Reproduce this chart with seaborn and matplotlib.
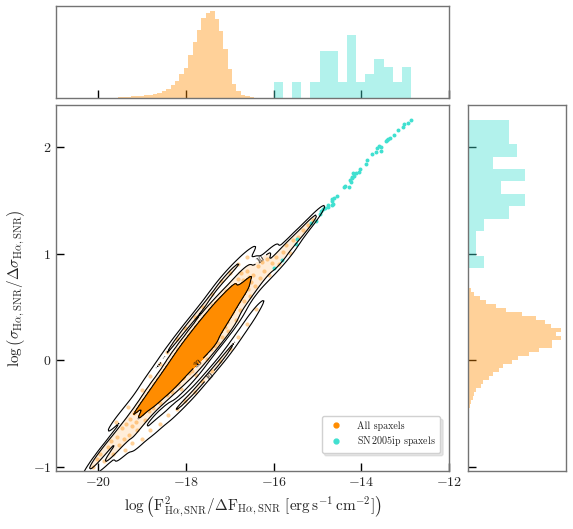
import numpy as np
import pandas as pd
import matplotlib
matplotlib.use('Agg')
import matplotlib.pyplot as plt
from matplotlib.lines import Line2D
from matplotlib.colors import ListedColormap
import seaborn as sns

# ---------- данные ----------
# все спакселы (выборка точек облака)
orange_pts = [
    (-20.12, -1.00), (-20.03, -0.93),
    (-19.95, -0.88), (-19.86, -0.95), (-19.78, -0.82),
    (-19.72, -0.76), (-19.66, -0.88), (-19.58, -0.72), (-19.52, -0.80),
    (-19.47, -0.64), (-19.42, -0.74), (-19.36, -0.60), (-19.31, -0.70), (-19.27, -0.55),
    (-19.23, -0.62), (-19.19, -0.50), (-19.15, -0.58), (-19.11, -0.66), (-19.07, -0.45),
    (-19.04, -0.52), (-19.01, -0.40),
    (-18.98, -0.49), (-18.95, -0.38), (-18.93, -0.56), (-18.90, -0.43), (-18.87, -0.33),
    (-18.85, -0.48), (-18.82, -0.40), (-18.80, -0.28), (-18.78, -0.36), (-18.76, -0.45),
    (-18.74, -0.30), (-18.72, -0.22), (-18.70, -0.38), (-18.68, -0.27), (-18.66, -0.33),
    (-18.64, -0.18), (-18.62, -0.25), (-18.60, -0.40), (-18.58, -0.29), (-18.57, -0.20),
    (-18.55, -0.34), (-18.53, -0.14), (-18.52, -0.24), (-18.51, -0.30),
    (-18.49, -0.19), (-18.48, -0.27), (-18.46, -0.10), (-18.45, -0.22), (-18.43, -0.33),
    (-18.42, -0.15), (-18.40, -0.06), (-18.39, -0.20), (-18.37, -0.26), (-18.36, -0.12),
    (-18.34, -0.02), (-18.33, -0.17), (-18.31, -0.30), (-18.30, -0.09), (-18.29, -0.21),
    (-18.28, -0.13), (-18.27, 0.02), (-18.26, -0.24),
    (-18.24, -0.08), (-18.23, -0.18), (-18.22, 0.04), (-18.21, -0.12), (-18.20, -0.02),
    (-18.19, 0.10), (-18.18, -0.22), (-18.17, -0.06), (-18.16, 0.01), (-18.15, -0.15),
    (-18.14, 0.07), (-18.12, -0.04), (-18.11, -0.27), (-18.10, 0.13), (-18.09, -0.10),
    (-18.08, 0.02), (-18.07, -0.17), (-18.06, 0.08), (-18.05, -0.03), (-18.04, 0.16),
    (-18.02, -0.08), (-18.01, 0.04),
    (-17.99, 0.05), (-17.98, -0.08), (-17.97, 0.14), (-17.96, 0.00), (-17.95, 0.21),
    (-17.94, -0.12), (-17.93, 0.08), (-17.92, 0.03), (-17.91, 0.17), (-17.90, -0.04),
    (-17.89, 0.11), (-17.88, 0.26), (-17.87, 0.06), (-17.86, -0.10), (-17.85, 0.15),
    (-17.84, 0.02), (-17.83, 0.20), (-17.82, 0.09), (-17.81, -0.02), (-17.80, 0.13),
    (-17.79, 0.30), (-17.78, 0.07), (-17.78, -0.14), (-17.77, 0.18), (-17.76, 0.04),
    (-17.76, 0.24), (-17.75, 0.11),
    (-17.74, 0.19), (-17.73, 0.06), (-17.73, 0.30), (-17.72, 0.13), (-17.71, 0.24),
    (-17.70, -0.02), (-17.69, 0.17), (-17.68, 0.36), (-17.67, 0.09), (-17.66, 0.22),
    (-17.65, 0.14), (-17.64, 0.29), (-17.63, 0.03), (-17.62, 0.19), (-17.61, 0.40),
    (-17.60, 0.11), (-17.60, 0.26), (-17.59, 0.18), (-17.58, 0.33), (-17.57, 0.07),
    (-17.56, 0.23), (-17.56, 0.15), (-17.55, 0.38), (-17.54, 0.20), (-17.53, 0.28),
    (-17.53, 0.01), (-17.52, 0.12), (-17.51, 0.25), (-17.51, 0.34), (-17.50, 0.17),
    (-17.49, 0.30), (-17.48, 0.42), (-17.48, 0.16), (-17.47, 0.27), (-17.46, 0.36),
    (-17.45, 0.22), (-17.45, 0.48), (-17.44, 0.31), (-17.43, 0.10), (-17.42, 0.39),
    (-17.41, 0.25), (-17.40, 0.33), (-17.40, 0.52), (-17.39, 0.19), (-17.38, 0.29),
    (-17.37, 0.44), (-17.36, 0.36), (-17.35, 0.13), (-17.34, 0.31), (-17.33, 0.24),
    (-17.32, 0.47), (-17.31, 0.38), (-17.31, 0.28), (-17.30, 0.55), (-17.29, 0.21),
    (-17.28, 0.35), (-17.27, 0.42), (-17.27, 0.16), (-17.26, 0.33), (-17.25, 0.49),
    (-17.24, 0.40), (-17.23, 0.28), (-17.22, 0.52), (-17.21, 0.45), (-17.20, 0.34),
    (-17.19, 0.58), (-17.18, 0.43), (-17.17, 0.22), (-17.16, 0.49), (-17.15, 0.38),
    (-17.14, 0.61), (-17.13, 0.46), (-17.12, 0.31), (-17.11, 0.54), (-17.10, 0.42),
    (-17.09, 0.65), (-17.08, 0.50), (-17.07, 0.36), (-17.06, 0.57), (-17.05, 0.47),
    (-17.04, 0.27), (-17.03, 0.60), (-17.02, 0.51), (-17.01, 0.43),
    (-16.99, 0.55), (-16.97, 0.66), (-16.95, 0.44), (-16.93, 0.60), (-16.91, 0.52),
    (-16.89, 0.71), (-16.87, 0.58), (-16.86, 0.38), (-16.84, 0.64), (-16.82, 0.55),
    (-16.81, 0.76), (-16.79, 0.61), (-16.78, 0.47), (-16.77, 0.68), (-16.76, 0.57),
    (-16.75, 0.82),
    (-16.73, 0.64), (-16.70, 0.75), (-16.67, 0.56), (-16.64, 0.70), (-16.61, 0.84),
    (-16.58, 0.67), (-16.56, 0.78), (-16.53, 0.60), (-16.51, 0.73),
    (-16.47, 0.80), (-16.42, 0.70), (-16.37, 0.88), (-16.32, 0.77), (-16.27, 0.92),
    (-16.22, 0.84), (-16.16, 0.95), (-16.10, 0.80), (-16.04, 0.91),
    (-15.95, 0.97), (-15.87, 0.90), (-15.79, 1.02),
    (-15.71, 1.08), (-15.62, 1.01), (-15.55, 1.13),
    (-15.44, 1.16), (-15.33, 1.22),
    (-15.21, 1.27), (-15.10, 1.32),
    # разреженные точки по краям облака
    (-19.40, -0.84), (-19.22, -0.78), (-19.00, -0.74), (-18.83, -0.66), (-18.60, -0.60),
    (-18.42, -0.52), (-18.20, -0.46), (-18.03, -0.38), (-17.80, -0.30), (-17.63, -0.20),
    (-17.40, -0.10), (-17.22, -0.01), (-17.00, 0.10), (-16.82, 0.22), (-16.60, 0.34),
    (-16.40, 0.48),
    (-19.60, -0.58), (-19.32, -0.44), (-19.00, -0.28), (-18.82, -0.15), (-18.60, -0.04),
    (-18.43, 0.08), (-18.20, 0.20), (-18.02, 0.30), (-17.80, 0.41), (-17.62, 0.50),
    (-17.40, 0.62), (-17.21, 0.74), (-17.00, 0.82), (-16.82, 0.90), (-16.60, 0.97),
]

# спакселы SN 2005ip
sn_pts = [
    (-12.87, 2.26), (-12.95, 2.23), (-13.02, 2.22), (-13.05, 2.19), (-13.17, 2.16),
    (-13.25, 2.12), (-13.36, 2.09), (-13.39, 2.08), (-13.41, 2.07), (-13.43, 2.06),
    (-13.55, 2.00), (-13.59, 2.01), (-13.65, 1.99), (-13.56, 1.97), (-13.68, 1.96),
    (-13.76, 1.94), (-13.87, 1.88), (-13.90, 1.84), (-14.03, 1.80), (-14.05, 1.77),
    (-14.13, 1.76), (-14.19, 1.76), (-14.16, 1.73), (-14.21, 1.71), (-14.22, 1.72),
    (-14.26, 1.69), (-14.24, 1.67), (-14.29, 1.63), (-14.38, 1.64), (-14.41, 1.63),
    (-14.55, 1.54), (-14.62, 1.52), (-14.67, 1.50), (-14.64, 1.47), (-14.67, 1.46),
    (-14.68, 1.51), (-14.76, 1.46), (-14.77, 1.44), (-14.84, 1.43), (-14.87, 1.42),
    (-14.93, 1.40), (-14.95, 1.37), (-15.04, 1.31), (-15.14, 1.29), (-15.48, 1.14),
    (-15.49, 1.09), (-15.82, 0.94), (-16.00, 0.865),
]

# маргинальная гистограмма всех спакселов по x (плотность), бины по 0.1 от -19.65
orange_xhist = [0.004, 0.008, 0.013, 0.013, 0.021, 0.025, 0.030, 0.038, 0.038, 0.051,
                0.064, 0.093, 0.119, 0.161, 0.212, 0.306, 0.382, 0.552, 0.713, 0.871,
                1.019, 1.083, 1.108, 1.011, 0.849, 0.629, 0.365, 0.178, 0.093, 0.042,
                0.021, 0.008, 0.004, 0.004]
# маргинальная гистограмма по y (плотность), бины по 0.0375 от -0.75 до 0.75
orange_yhist = [0.007, 0.007, 0.007, 0.007, 0.015, 0.015, 0.022, 0.029, 0.044, 0.066,
                0.103, 0.132, 0.176, 0.279, 0.323, 0.456, 0.558, 0.691, 0.779, 0.963,
                1.110, 1.345, 1.572, 1.852, 1.852, 2.043, 1.940, 2.043, 1.822, 1.697,
                1.499, 1.183, 0.838, 0.617, 0.397, 0.265, 0.132, 0.059, 0.022, 0.007]

xticks = [-20, -18, -16, -14, -12]
yticks = [-1, 0, 1, 2]
contour_labels = ['', '10', '30']

ORANGE = 'darkorange'
CYAN = 'turquoise'

df_all = pd.DataFrame(orange_pts, columns=['x', 'y'])
df_sn = pd.DataFrame(sn_pts, columns=['x', 'y'])

x_step = 0.1
x_lo = -19.65
df_xh = pd.DataFrame({'x': x_lo + x_step * (np.arange(len(orange_xhist)) + 0.5),
                      'w': orange_xhist})
y_step = 0.0375
y_lo = -0.75
df_yh = pd.DataFrame({'y': y_lo + y_step * (np.arange(len(orange_yhist)) + 0.5),
                      'w': orange_yhist})

# ---------- стиль ----------
sns.set_style('ticks')
plt.rcParams['font.family'] = ['cmr10', 'DejaVu Serif']
plt.rcParams['mathtext.fontset'] = 'cm'
plt.rcParams['axes.formatter.use_mathtext'] = True
plt.rcParams['axes.edgecolor'] = '0.45'
plt.rcParams['axes.linewidth'] = 1.0

fig = plt.figure(figsize=(5.73, 5.29), dpi=100)
ax = fig.add_axes([0.098, 0.110, 0.686, 0.692])
ax_top = fig.add_axes([0.098, 0.815, 0.686, 0.174])
ax_right = fig.add_axes([0.817, 0.110, 0.171, 0.692])

# ---------- основная панель ----------
bw = 0.6
# плотная середина облака
sns.kdeplot(data=df_all, x='x', y='y', levels=[0.15, 0.4], fill=True,
            cmap=ListedColormap([ORANGE]), alpha=0.15, bw_adjust=bw, ax=ax)
sns.kdeplot(data=df_all, x='x', y='y', levels=[0.4, 1], fill=True,
            cmap=ListedColormap([ORANGE]), bw_adjust=bw, ax=ax)
sns.scatterplot(data=df_all, x='x', y='y', color=ORANGE, alpha=0.4, s=9,
                linewidth=0, ax=ax)
sns.kdeplot(data=df_all, x='x', y='y', levels=[0.03, 0.15, 0.4], color='k',
            linewidths=0.8, bw_adjust=bw, ax=ax)
cs = ax.collections[-1]
try:
    ax.clabel(cs, levels=cs.levels[1:],
              fmt={lv: lb for lv, lb in zip(cs.levels, contour_labels)},
              fontsize=6, inline=True)
except Exception as e:
    print('clabel:', e)
sns.scatterplot(data=df_sn, x='x', y='y', color=CYAN, s=8, linewidth=0, ax=ax)

ax.set_xlim(-20.96, -12.0)
ax.set_ylim(-1.04, 2.40)
ax.set_xticks(xticks)
ax.set_yticks(yticks)
ax.tick_params(direction='in', length=6, width=1, color='k', labelsize=10)
ax.set_xlabel(r'$\log\left(\mathrm{F}^2_{\mathrm{H}\alpha,\mathrm{SNR}}/\Delta\mathrm{F}_{\mathrm{H}\alpha,\mathrm{SNR}}\ [\mathrm{erg\,s^{-1}\,cm^{-2}}]\right)$',
              fontsize=11)
ax.set_ylabel(r'$\log\left(\sigma_{\mathrm{H}\alpha,\mathrm{SNR}}/\Delta\sigma_{\mathrm{H}\alpha,\mathrm{SNR}}\right)$',
              fontsize=11)

handles = [Line2D([], [], marker='o', ls='', color=ORANGE, markersize=3.5),
           Line2D([], [], marker='o', ls='', color=CYAN, markersize=3.5)]
ax.legend(handles, ['All spaxels', r'SN$\,$2005ip spaxels'], loc='lower right',
          fontsize=7.2, fancybox=True, framealpha=1, edgecolor='0.82',
          shadow={'color': '0.8', 'alpha': 0.5}, borderpad=0.45,
          labelspacing=0.35, handletextpad=1.1,
          bbox_to_anchor=(0.99, 0.035))

# ---------- верхняя гистограмма ----------
sns.histplot(data=df_xh, x='x', weights='w', binwidth=x_step,
             binrange=(x_lo, x_lo + x_step * len(orange_xhist)), color=ORANGE,
             alpha=0.4, linewidth=0, ax=ax_top)
sns.histplot(data=df_sn, x='x', bins=15, stat='density', color=CYAN, alpha=0.4,
             linewidth=0, ax=ax_top)
ax_top.set_xlim(ax.get_xlim())
ax_top.set_ylim(0, 1.176)
ax_top.set_xticks(xticks)
ax_top.set_yticks([])
ax_top.set_xticklabels([])
ax_top.set_xlabel('')
ax_top.set_ylabel('')
ax_top.tick_params(direction='in', length=6, width=1, color='k')

# ---------- правая гистограмма ----------
sns.histplot(data=df_yh, y='y', weights='w', binwidth=y_step,
             binrange=(y_lo, y_lo + y_step * len(orange_yhist)), color=ORANGE,
             alpha=0.4, linewidth=0, ax=ax_right)
sns.histplot(data=df_sn, y='y', bins=12, stat='density', color=CYAN, alpha=0.4,
             linewidth=0, ax=ax_right)
ax_right.set_ylim(ax.get_ylim())
ax_right.set_xlim(0, 2.16)
ax_right.set_yticks(yticks)
ax_right.set_xticks([])
ax_right.set_yticklabels([])
ax_right.set_xlabel('')
ax_right.set_ylabel('')
ax_right.tick_params(direction='in', length=6, width=1, color='k')

fig.savefig('out.png', dpi=100)
